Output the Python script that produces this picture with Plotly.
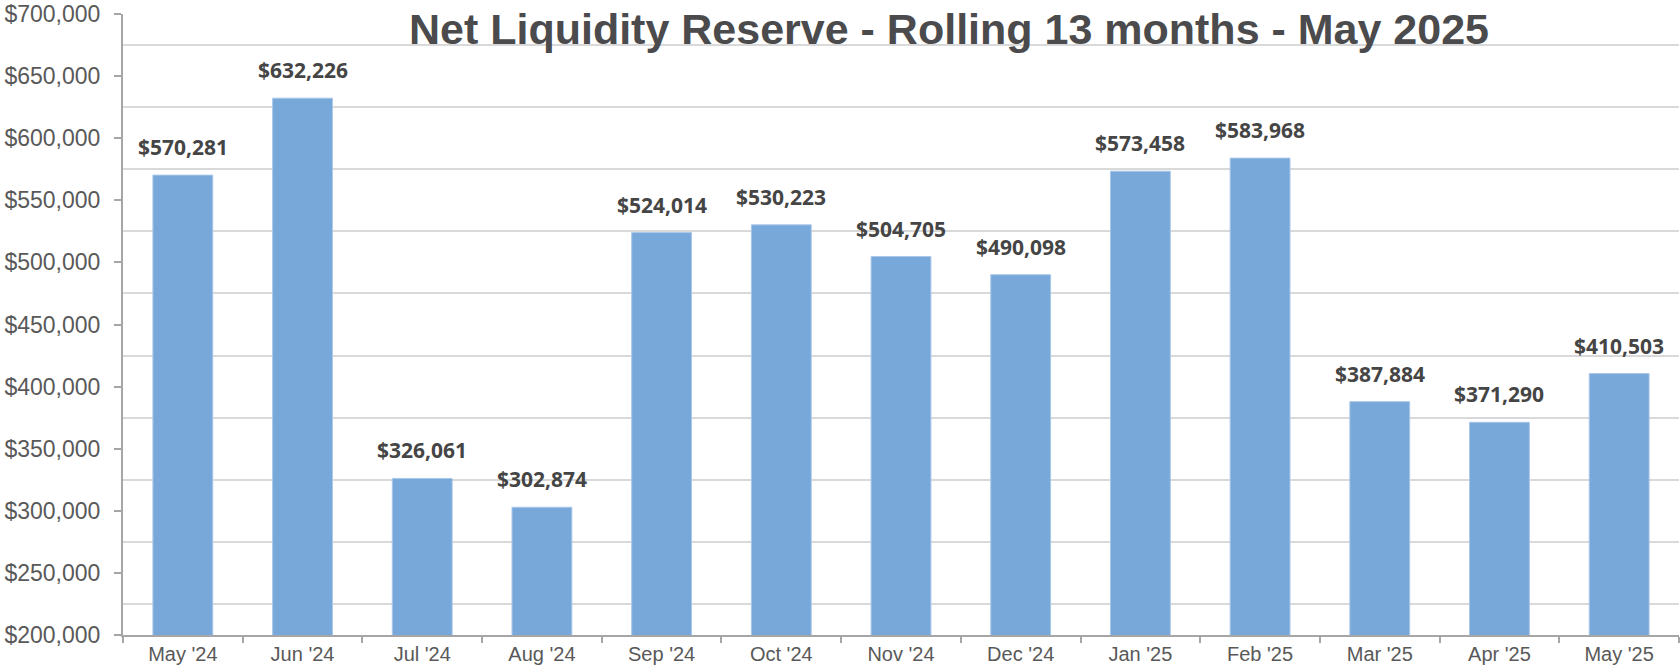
import plotly.graph_objects as go

months = ["May '24", "Jun '24", "Jul '24", "Aug '24", "Sep '24", "Oct '24", "Nov '24",
          "Dec '24", "Jan '25", "Feb '25", "Mar '25", "Apr '25", "May '25"]
reserve = [570281, 632226, 326061, 302874, 524014, 530223, 504705,
           490098, 573458, 583968, 387884, 371290, 410503]
y_ticks = [200000, 250000, 300000, 350000, 400000, 450000, 500000, 550000, 600000, 650000, 700000]
y_tick_text = ["${:,}".format(v) for v in y_ticks]

W, H = 1680, 669

fig = go.Figure()
fig.add_trace(go.Bar(
    x=months, y=reserve,
    marker=dict(color="#78A8D9", line=dict(color="#A9C7E9", width=1)),
    hoverinfo="x+y",
))

for m, v in zip(months, reserve):
    fig.add_annotation(
        x=m, y=v, text="<b>${:,}</b>".format(v), showarrow=False,
        yanchor="bottom", yshift=12,
        font=dict(family="Noto Sans", size=21, color="#454545"),
    )

fig.update_layout(
    width=W, height=H,
    margin=dict(l=123, r=1, t=14, b=34),
    paper_bgcolor="white", plot_bgcolor="white",
    bargap=0.5, showlegend=False,
    title=dict(
        text="<b>Net Liquidity Reserve - Rolling 13 months - May 2025</b>",
        x=949 / W, xanchor="center", xref="container",
        y=1 - 29 / H, yanchor="middle", yref="container",
        font=dict(family="Liberation Sans, Arial", size=43, color="#4B4B4D"),
    ),
    xaxis=dict(
        type="category", automargin=False,
        showline=True, linecolor="#A6A6A6", linewidth=2,
        ticks="outside", tickson="boundaries", ticklen=6, tickcolor="#A6A6A6", tickwidth=1.5,
        tickfont=dict(family="Liberation Sans, Arial", size=20, color="#595959"),
        showgrid=False,
    ),
    yaxis=dict(
        range=[200000, 700000], automargin=False,
        tickvals=y_ticks, ticktext=y_tick_text,
        showline=True, linecolor="#A6A6A6", linewidth=2,
        ticks="outside", ticklen=7, tickcolor="#A6A6A6", tickwidth=1.5,
        ticklabelstandoff=9, ticklabeloverflow="allow",
        tickfont=dict(family="Liberation Sans, Arial", size=23, color="#595959"),
        showgrid=False, zeroline=False,
        minor=dict(tick0=225000, dtick=50000, showgrid=True, gridcolor="#D9D9D9",
                   gridwidth=1.5, ticks=""),
    ),
)

fig.write_html("out.html", config={"displayModeBar": False},
               post_script="document.body.style.margin='0px';")
